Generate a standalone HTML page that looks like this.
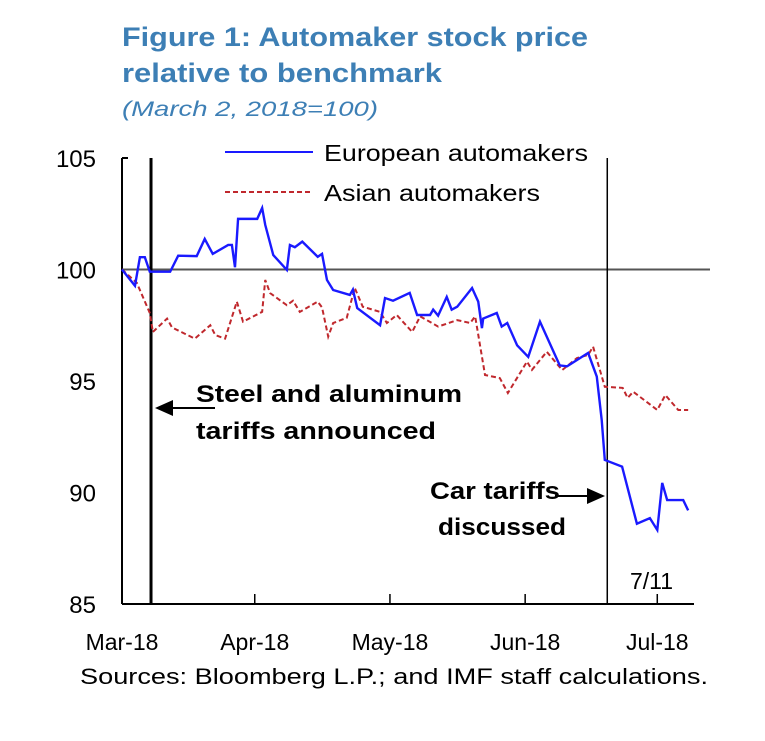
<!DOCTYPE html>
<html><head><meta charset="utf-8"><style>
body{margin:0;background:#fff;width:765px;height:741px;overflow:hidden}
svg{display:block}
</style></head><body>
<svg id="c" width="765" height="741" font-family="'Liberation Sans', sans-serif">
<text x="122" y="46" font-size="27" font-weight="bold" fill="#3d7fb5" textLength="466" lengthAdjust="spacingAndGlyphs">Figure 1: Automaker stock price</text>
<text x="122" y="82" font-size="27" font-weight="bold" fill="#3d7fb5" textLength="320" lengthAdjust="spacingAndGlyphs">relative to benchmark</text>
<text x="122" y="116" font-size="21" font-style="italic" fill="#3d7fb5" textLength="256" lengthAdjust="spacingAndGlyphs">(March 2, 2018=100)</text>
<g id="plot"></g>
<text x="80" y="684" font-size="22" fill="#000" textLength="628" lengthAdjust="spacingAndGlyphs">Sources: Bloomberg L.P.; and IMF staff calculations.</text>
</svg>
<script>
const yTicks=[105,100,95,90,85];
const monthLabels=["Mar-18","Apr-18","May-18","Jun-18","Jul-18"];
const monthIdx=[0,21.5,43.4,65.3,86.7];
const steelIdx=4.7;
const carIdx=78.6;
const euX=[0,2.1,2.9,3.7,4.5,7.8,9.1,12.1,13.4,14.7,17.2,17.8,18.3,18.8,21.9,22.7,23.2,24.5,26.7,27.2,28.0,29.2,31.7,32.4,33.2,34.2,36.9,37.4,38.1,41.8,42.6,43.9,46.6,47.8,49.9,50.4,51.2,52.6,53.4,54.3,56.7,57.7,58.3,58.5,60.7,61.5,62.4,64.0,65.8,67.7,70.9,72.1,75.5,76.9,77.7,78.2,81.0,83.4,85.5,86.7,87.5,88.3,90.9,91.7];
const euY=[100,99.27,100.55,100.55,99.9,99.9,100.62,100.6,101.37,100.7,101.1,101.1,100.1,102.27,102.27,102.76,102.0,100.65,99.98,101.1,101.0,101.25,100.57,100.7,99.53,99.08,98.86,99.1,98.27,97.5,98.72,98.6,98.95,97.96,97.96,98.2,97.93,98.77,98.2,98.33,99.17,98.56,97.37,97.8,98.05,97.44,97.6,96.6,96.08,97.66,95.7,95.66,96.26,95.2,93.25,91.46,91.16,88.6,88.85,88.32,90.43,89.66,89.66,89.2];
const asX=[0,2.4,4.5,5.0,7.3,8.1,11.8,14.3,15.1,16.7,18.6,19.6,22.7,23.2,24.0,26.7,27.7,28.8,31.7,32.4,33.4,34.2,36.4,37.7,39.0,41.8,42.9,44.5,47.0,48.3,51.2,54.3,56.4,57.2,58.3,58.8,61.2,62.5,65.6,66.4,68.8,71.3,73.7,75.5,76.3,78.2,81.1,81.9,82.8,86.7,88.0,90.1,91.7];
const asY=[100,99.4,98.05,97.2,97.8,97.4,96.9,97.5,97.06,96.9,98.56,97.66,98.1,99.53,98.94,98.4,98.6,98.1,98.56,98.3,96.99,97.6,97.83,99.17,98.33,98.1,97.6,97.96,97.2,97.9,97.44,97.73,97.6,97.9,96.09,95.27,95.13,94.46,95.87,95.5,96.31,95.49,96.03,96.17,96.54,94.74,94.69,94.24,94.52,93.7,94.37,93.7,93.7];
const x0=122,x1=690,y0=158,y1=604;
const X=i=>x0+(x1-x0)*i/92;
const Y=v=>y0+(105-v)*(y1-y0)/20;
const g=document.getElementById('plot');
const NS='http://www.w3.org/2000/svg';
function mk(t,a){const e=document.createElementNS(NS,t);for(const k in a)e.setAttribute(k,a[k]);g.appendChild(e);return e;}
let e;
e=mk('line',{x1:x0,y1:y0,x2:x0,y2:y1,stroke:'#000','stroke-width':2});


e=mk('line',{x1:x0,y1:y0,x2:x0+6,y2:y0,stroke:'#000','stroke-width':2});


e=mk('line',{x1:x0,y1:y1,x2:694,y2:y1,stroke:'#000','stroke-width':2});


yTicks.forEach(v=>{
 e=mk('text',{x:96,y:Y(v)+9,'font-size':24,'text-anchor':'end',fill:'#000'});
 e.textContent=v;
 
 
});
monthLabels.forEach((m,i)=>{
 if(i>0){e=mk('line',{x1:X(monthIdx[i]),y1:y1,x2:X(monthIdx[i]),y2:y1-10,stroke:'#000','stroke-width':1.5});
 
 }
 e=mk('text',{x:X(monthIdx[i]),y:650,'font-size':23,'text-anchor':'middle',fill:'#000'});
 e.textContent=m;
 
 
});
e=mk('line',{x1:x0,y1:Y(100),x2:710,y2:Y(100),stroke:'#555','stroke-width':2});


e=mk('line',{x1:X(steelIdx),y1:y0,x2:X(steelIdx),y2:y1,stroke:'#000','stroke-width':3});


e=mk('line',{x1:X(carIdx),y1:y0,x2:X(carIdx),y2:y1,stroke:'#000','stroke-width':1.5});


e=mk('polyline',{points:asX.map((x,i)=>X(x)+','+Y(asY[i])).join(' '),fill:'none',stroke:'#c0282d','stroke-width':2,'stroke-dasharray':'5,3'});


e=mk('polyline',{points:euX.map((x,i)=>X(x)+','+Y(euY[i])).join(' '),fill:'none',stroke:'#1a1aff','stroke-width':2.4});


// legend
e=mk('line',{x1:225,y1:152,x2:313,y2:152,stroke:'#1a1aff','stroke-width':2});


e=mk('text',{x:324,y:161,'font-size':23,fill:'#000',textLength:264,lengthAdjust:'spacingAndGlyphs'});e.textContent='European automakers';


e=mk('line',{x1:225,y1:192,x2:313,y2:192,stroke:'#c0282d','stroke-width':2,'stroke-dasharray':'5,3'});


e=mk('text',{x:324,y:201,'font-size':23,fill:'#000',textLength:216,lengthAdjust:'spacingAndGlyphs'});e.textContent='Asian automakers';


// annotations
e=mk('line',{x1:172,y1:408,x2:215,y2:408,stroke:'#000','stroke-width':2});


e=mk('polygon',{points:'155,408 173,400 173,416',fill:'#000'});


e=mk('text',{x:196,y:402,'font-size':24,'font-weight':'bold',fill:'#000',textLength:266,lengthAdjust:'spacingAndGlyphs'});e.textContent='Steel and aluminum';


e=mk('text',{x:196,y:439,'font-size':24,'font-weight':'bold',fill:'#000',textLength:240,lengthAdjust:'spacingAndGlyphs'});e.textContent='tariffs announced';


e=mk('text',{x:430,y:499,'font-size':24,'font-weight':'bold',fill:'#000',textLength:130,lengthAdjust:'spacingAndGlyphs'});e.textContent='Car tariffs';


e=mk('text',{x:438,y:535,'font-size':24,'font-weight':'bold',fill:'#000',textLength:128,lengthAdjust:'spacingAndGlyphs'});e.textContent='discussed';


e=mk('line',{x1:555,y1:496,x2:590,y2:496,stroke:'#000','stroke-width':2});


e=mk('polygon',{points:'605,496 587,488 587,504',fill:'#000'});


e=mk('text',{x:630,y:589,'font-size':23,fill:'#000'});e.textContent='7/11';


</script>
</body></html>
